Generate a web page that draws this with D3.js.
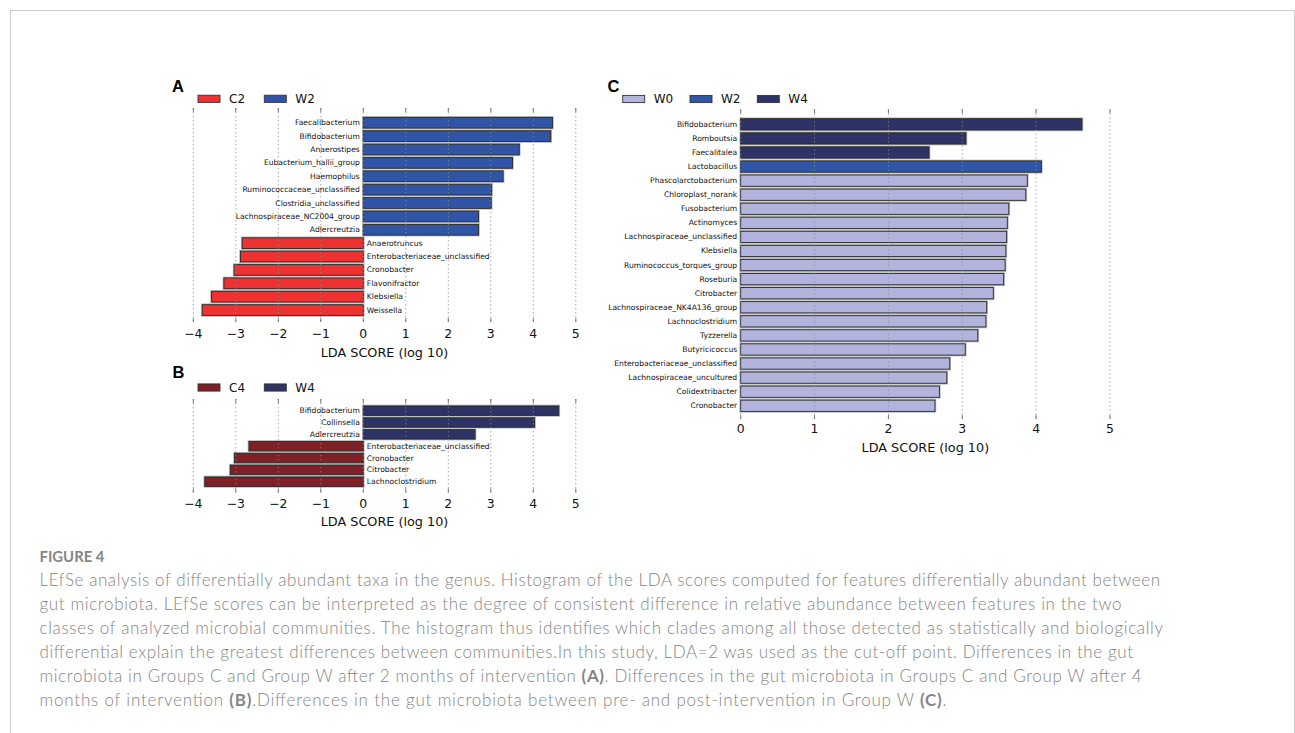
<!DOCTYPE html>
<html><head><meta charset="utf-8">
<script src="https://cdn.jsdelivr.net/npm/d3@7"></script>
<style>
html,body{margin:0;padding:0;background:#fff;}
svg{display:block;}
</style>
</head><body>
<svg id="chart" width="1295" height="733"></svg>
<script>
// ---------- DATA ----------
const aNames = ["Faecalibacterium","Bifidobacterium","Anaerostipes","Eubacterium_hallii_group","Haemophilus","Ruminococcaceae_unclassified","Clostridia_unclassified","Lachnospiraceae_NC2004_group","Adlercreutzia","Anaerotruncus","Enterobacteriaceae_unclassified","Cronobacter","Flavonifractor","Klebsiella","Weissella"];
const aValues = [4.45,4.41,3.67,3.51,3.29,3.02,3.01,2.71,2.71,-2.85,-2.89,-3.04,-3.28,-3.57,-3.79];
const aGroups = ["W2","W2","W2","W2","W2","W2","W2","W2","W2","C2","C2","C2","C2","C2","C2"];
const aLegend = ["C2","W2"];

const bNames = ["Bifidobacterium","Collinsella","Adlercreutzia","Enterobacteriaceae_unclassified","Cronobacter","Citrobacter","Lachnoclostridium"];
const bValues = [4.60,4.03,2.63,-2.69,-3.03,-3.13,-3.73];
const bGroups = ["W4","W4","W4","C4","C4","C4","C4"];
const bLegend = ["C4","W4"];

const cNames = ["Bifidobacterium","Romboutsia","Faecalitalea","Lactobacillus","Phascolarctobacterium","Chloroplast_norank","Fusobacterium","Actinomyces","Lachnospiraceae_unclassified","Klebsiella","Ruminococcus_torques_group","Roseburia","Citrobacter","Lachnospiraceae_NK4A136_group","Lachnoclostridium","Tyzzerella","Butyricicoccus","Enterobacteriaceae_unclassified","Lachnospiraceae_uncultured","Colidextribacter","Cronobacter"];
const cValues = [4.62,3.05,2.55,4.07,3.88,3.86,3.63,3.61,3.60,3.59,3.58,3.56,3.42,3.33,3.32,3.21,3.04,2.83,2.79,2.69,2.63];
const cGroups = ["W4","W4","W4","W2","W0","W0","W0","W0","W0","W0","W0","W0","W0","W0","W0","W0","W0","W0","W0","W0","W0"];
const cLegend = ["W0","W2","W4"];

const abTicks = [-4,-3,-2,-1,0,1,2,3,4,5];
const cTicks = [0,1,2,3,4,5];
const axisTitle = "LDA SCORE (log 10)";

const captionTitle = "FIGURE 4";
const captionLines = [
  [["LEfSe analysis of differentially abundant taxa in the genus. Histogram of the LDA scores computed for features differentially abundant between",false]],
  [["gut microbiota. LEfSe scores can be interpreted as the degree of consistent difference in relative abundance between features in the two",false]],
  [["classes of analyzed microbial communities. The histogram thus identifies which clades among all those detected as statistically and biologically",false]],
  [["differential explain the greatest differences between communities.In this study, LDA=2 was used as the cut-off point. Differences in the gut",false]],
  [["microbiota in Groups C and Group W after 2 months of intervention ",false],["(A)",true],[". Differences in the gut microbiota in Groups C and Group W after 4",false]],
  [["months of intervention ",false],["(B)",true],[".Differences in the gut microbiota between pre- and post-intervention in Group W ",false],["(C)",true],[".",false]]
];
const captionWidths = [1120.5, 1082, 1123.5, 1093.5, 1102, 907];

// ---------- STYLE ----------
const colors = {C2:"#ee3131", W2:"#3055a6", C4:"#7e2026", W4:"#2d3364", W0:"#b2b4de"};
const FONT = "'DejaVu Sans', sans-serif";

const svg = d3.select("#chart");

// frame
svg.append("path")
  .attr("d","M10.5,740 L10.5,10.5 L1294.5,10.5 L1294.5,740")
  .attr("fill","none").attr("stroke","#cfcfcf").attr("stroke-width",1.2);

function drawPanel(cfg){
  const g = svg.append("g");
  const x = d3.scaleLinear().domain(cfg.domain).range(cfg.xRange);
  const y = d3.scaleBand().domain(cfg.names).range(cfg.yRange).padding(0.2);
  const rows = cfg.names.map((n,i)=>({name:n, value:cfg.values[i], group:cfg.groups[i]}));

  // bars: soft halo then bar
  g.selectAll("rect.halo").data(rows).enter().append("rect")
    .attr("class","halo")
    .attr("x",d=>Math.min(x(0),x(d.value)))
    .attr("y",d=>y(d.name))
    .attr("width",d=>Math.abs(x(d.value)-x(0)))
    .attr("height",y.bandwidth())
    .attr("fill","none").attr("stroke","#b8b8b8").attr("stroke-width",2.6);
  g.selectAll("rect.bar").data(rows).enter().append("rect")
    .attr("class","bar")
    .attr("x",d=>Math.min(x(0),x(d.value)))
    .attr("y",d=>y(d.name))
    .attr("width",d=>Math.abs(x(d.value)-x(0)))
    .attr("height",y.bandwidth())
    .attr("fill",d=>colors[d.group]).attr("stroke","#2a2a2a").attr("stroke-width",0.9);

  // grid (dotted, on top)
  g.selectAll("line.grid").data(cfg.ticks).enter().append("line")
    .attr("x1",d=>x(d)).attr("x2",d=>x(d))
    .attr("y1",cfg.gridTop).attr("y2",cfg.gridBottom)
    .attr("stroke","#8a8a8a").attr("stroke-width",0.8).attr("stroke-dasharray","1.4,2.6");
  // tick marks top & bottom
  g.selectAll("line.tt").data(cfg.ticks).enter().append("line")
    .attr("x1",d=>x(d)).attr("x2",d=>x(d))
    .attr("y1",cfg.gridTop).attr("y2",cfg.gridTop+4)
    .attr("stroke","#555").attr("stroke-width",0.8);
  g.selectAll("line.tb").data(cfg.ticks).enter().append("line")
    .attr("x1",d=>x(d)).attr("x2",d=>x(d))
    .attr("y1",cfg.gridBottom-4).attr("y2",cfg.gridBottom)
    .attr("stroke","#555").attr("stroke-width",0.8);

  // tick labels
  const fmt = d3.format("d");
  g.selectAll("text.tick").data(cfg.ticks).enter().append("text")
    .attr("x",d=>x(d)).attr("y",cfg.tickLabelY)
    .attr("text-anchor","middle").attr("dominant-baseline","central")
    .attr("font-family",FONT).attr("font-size",12.4).attr("fill","#111")
    .text(d=>fmt(d));
  // axis title
  g.append("text")
    .attr("x",(cfg.xRange[0]+cfg.xRange[1])/2).attr("y",cfg.titleY)
    .attr("text-anchor","middle").attr("dominant-baseline","central")
    .attr("font-family",FONT).attr("font-size",12.8).attr("fill","#111")
    .text(axisTitle);

  // feature labels
  g.selectAll("text.lab").data(rows).enter().append("text")
    .attr("x",d=>d.value>=0 ? x(0)-3.5 : x(0)+3.5)
    .attr("y",d=>y(d.name)+y.bandwidth()/2)
    .attr("text-anchor",d=>d.value>=0?"end":"start")
    .attr("dominant-baseline","central")
    .attr("font-family",FONT).attr("font-size",7.6).attr("fill","#111")
    .text(d=>d.name);

  // panel letter
  g.append("text").attr("x",cfg.letterX).attr("y",cfg.letterY)
    .attr("font-family","'Liberation Sans', Arial, sans-serif").attr("font-weight","bold")
    .attr("font-size",16.5).attr("fill","#000").text(cfg.letter);

  // legend
  const lg = g.selectAll("g.leg").data(cfg.legend).enter().append("g")
    .attr("transform",(d,i)=>`translate(${cfg.legX + i*cfg.legStep},${cfg.legY})`);
  lg.append("rect").attr("x",0).attr("y",-3.6).attr("width",22).attr("height",7.2)
    .attr("fill",d=>colors[d]).attr("stroke","#333").attr("stroke-width",0.9);
  lg.append("text").attr("x",31).attr("y",0).attr("dominant-baseline","central")
    .attr("font-family",FONT).attr("font-size",12).attr("fill","#111").text(d=>d);
}

drawPanel({names:aNames, values:aValues, groups:aGroups, legend:aLegend,
  domain:[-4,5], xRange:[193.3,575.8], yRange:[114.7,318.1], ticks:abTicks,
  gridTop:108, gridBottom:322, tickLabelY:333.5, titleY:352,
  letter:"A", letterX:172, letterY:91.5, legX:198, legY:98.8, legStep:66.3});

drawPanel({names:bNames, values:bValues, groups:bGroups, legend:bLegend,
  domain:[-4,5], xRange:[193.3,575.8], yRange:[403.6,488.8], ticks:abTicks,
  gridTop:399, gridBottom:492.5, tickLabelY:503.5, titleY:521,
  letter:"B", letterX:172.5, letterY:378, legX:198, legY:387.5, legStep:66.3});

drawPanel({names:cNames, values:cValues, groups:cGroups, legend:cLegend,
  domain:[0,5], xRange:[740.7,1110], yRange:[115.9,414.2], ticks:cTicks,
  gridTop:109.3, gridBottom:419, tickLabelY:428.5, titleY:447,
  letter:"C", letterX:607.5, letterY:91.5, legX:622.7, legY:99, legStep:67.3});

// ---------- CAPTION ----------
const CAPFONT = "Lato, 'Open Sans', sans-serif";
svg.append("text").attr("x",39.5).attr("y",562.3)
  .attr("font-family",CAPFONT).attr("font-weight","bold").attr("font-size",14.5)
  .attr("fill","#868686").attr("textLength",65).attr("lengthAdjust","spacingAndGlyphs")
  .text(captionTitle);

const cap = svg.selectAll("text.cap").data(captionLines).enter().append("text")
  .attr("class","cap")
  .attr("x",39.5).attr("y",(d,i)=>586+i*24)
  .attr("font-family",CAPFONT).attr("font-size",17).attr("font-weight",300).attr("fill","#858585")
  .attr("textLength",(d,i)=>captionWidths[i]).attr("lengthAdjust","spacing");
cap.selectAll("tspan").data(d=>d).enter().append("tspan")
  .attr("font-weight",d=>d[1]?"bold":300)
  .text(d=>d[0]);
</script>
</body></html>
